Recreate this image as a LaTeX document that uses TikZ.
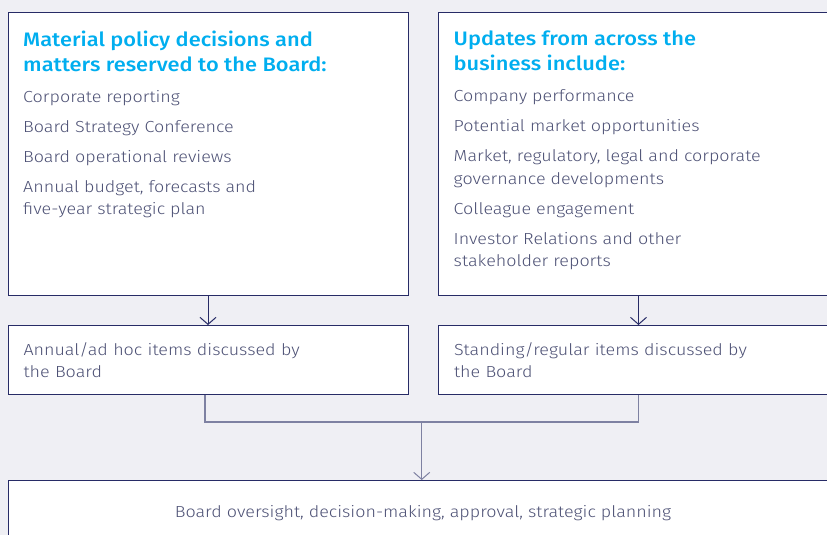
\documentclass[tikz,border=0pt]{standalone}
\usepackage{fontspec}
\setmainfont{Fira Sans}[UprightFont={* Light},BoldFont={* Medium},FakeStretch=1.12]
\usetikzlibrary{arrows.meta, positioning, calc}
\definecolor{pagebg}{HTML}{EFEFF4}
\definecolor{framenavy}{HTML}{272B66}
\definecolor{headblue}{HTML}{00AEEF}
\definecolor{bodygrey}{HTML}{4D5175}
\definecolor{linkgrey}{HTML}{7E81A2}
\tikzset{
  panel/.style={
    rectangle, draw=framenavy, line width=1pt, fill=white,
    anchor=north west, inner sep=0pt
  },
  heading/.style={
    text=headblue, font=\fontsize{19.5}{25}\selectfont\bfseries,
    align=left, inner sep=0pt
  },
  items/.style={
    text=bodygrey, font=\fontsize{16}{22.5}\selectfont,
    align=left, inner sep=0pt
  },
  arrow/.style={
    -{Straight Barb[length=7pt,width=16pt]}, line width=1pt, color=framenavy
  },
  link/.style={
    line width=1.6pt, color=linkgrey
  }
}

\begin{document}
\begin{tikzpicture}[x=1pt, y=1pt]
\clip (0,0) rectangle (827,-535);
\fill[pagebg] (0,0) rectangle (827,-535);
\node[panel, minimum width=400pt, minimum height=282.5pt] (reserved) at (7.5,-12.5) {};
\node[panel, minimum width=400pt, minimum height=282.5pt] (updates) at (438,-12.5) {};
\node[panel, minimum width=400pt, minimum height=68.5pt, inner xsep=15.5pt, text width=369pt, align=left, text=bodygrey, font=\fontsize{16}{22}\selectfont] (adhoc) at (7.5,-325) {Annual/ad hoc items discussed by\\the Board};
\node[panel, minimum width=400pt, minimum height=68.5pt, inner xsep=15.5pt, text width=369pt, align=left, text=bodygrey, font=\fontsize{16}{22}\selectfont] (standing) at (438,-325) {Standing/regular items discussed by\\the Board};
\node[panel, minimum width=830pt, minimum height=66pt, text=bodygrey, font=\fontsize{16}{22}\selectfont] (oversight) at (7.5,-480) {Board oversight, decision-making, approval, strategic planning};

\node[heading, anchor=north west] (reservedhead) at ([xshift=15.5pt,yshift=-18pt]reserved.north west) {Material policy decisions and\\matters reserved to the Board:};
\node[items, below=18.5pt of reservedhead.south west, anchor=north west] (reservedlist) {Corporate reporting\\[7.5pt]Board Strategy Conference\\[7.5pt]Board operational reviews\\[7.5pt]Annual budget, forecasts and\\five-year strategic plan};
\node[heading, anchor=north west] (updateshead) at ([xshift=15.5pt,yshift=-18pt]updates.north west) {Updates from across the\\business include:};
\node[items, below=18.5pt of updateshead.south west, anchor=north west] (updateslist) {Company performance\\[7.5pt]Potential market opportunities\\[7.5pt]Market, regulatory, legal and corporate\\governance developments\\[7.5pt]Colleague engagement\\[7.5pt]Investor Relations and other\\stakeholder reports};

\coordinate (join) at ($(adhoc.south)!0.5!(standing.south) + (-1.5,-27.5)$);
\draw[arrow] (reserved) -- (adhoc);
\draw[arrow] (updates) -- (standing);
\draw[link] ([xshift=-3pt]adhoc.south) |- (join) -| (standing.south);
\draw[link, arrow, color=linkgrey] (join) -- (join |- oversight.north);
\end{tikzpicture}
\end{document}
